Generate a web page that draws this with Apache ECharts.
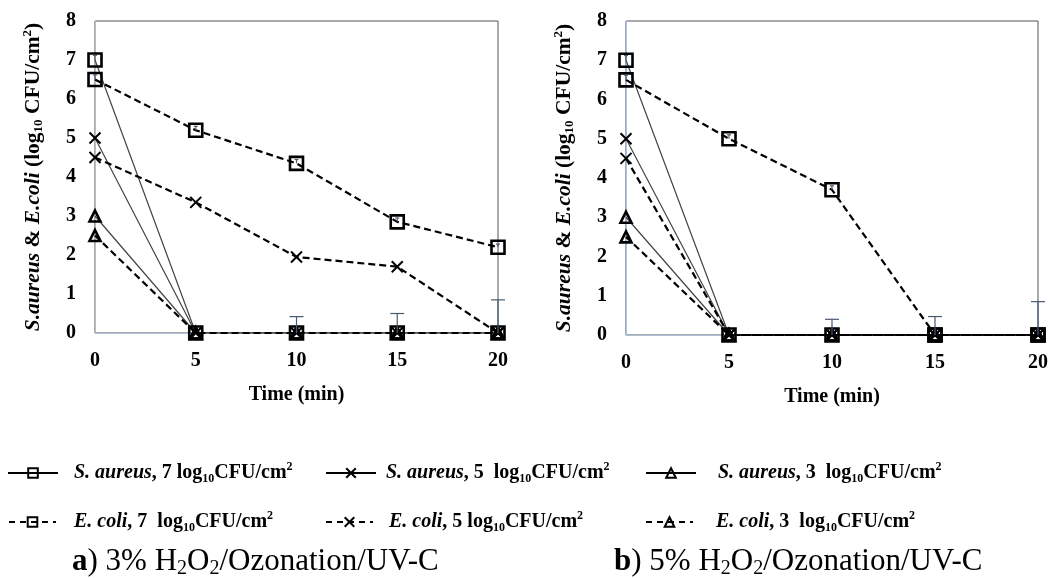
<!DOCTYPE html>
<html>
<head>
<meta charset="utf-8">
<script src="https://cdn.jsdelivr.net/npm/echarts@6/dist/echarts.min.js"></script>
<style>
  html, body { margin: 0; padding: 0; background: #fff; }
  #chart { width: 1051px; height: 578px; }
</style>
</head>
<body>
<div id="chart"></div>
<script>
// sampling times (min)
const times = [0, 5, 10, 15, 20]

// a) 3% H2O2/Ozonation/UV-C
const saureus7A = [7.0, 0, 0, 0, 0]
const saureus5A = [5.0, 0, 0, 0, 0]
const saureus3A = [3.0, 0, 0, 0, 0]
const ecoli7A = [6.5, 5.2, 4.35, 2.85, 2.2]
const ecoli5A = [4.5, 3.35, 1.95, 1.7, 0]
const ecoli3A = [2.5, 0, 0, 0, 0]

// b) 5% H2O2/Ozonation/UV-C
const saureus7B = [7.0, 0, 0, 0, 0]
const saureus5B = [5.0, 0, 0, 0, 0]
const saureus3B = [3.0, 0, 0, 0, 0]
const ecoli7B = [6.5, 5.0, 3.7, 0, 0]
const ecoli5B = [4.5, 0, 0, 0, 0]
const ecoli3B = [2.5, 0, 0, 0, 0]

// error bars: [time, value, upper error]
const errA = [[0, 7, 0.12], [0, 6.5, 0.12], [5, 5.2, 0.1], [10, 4.35, 0.1], [15, 2.85, 0.1], [20, 2.2, 0.08],
  [10, 0, 0.42], [15, 0, 0.5], [20, 0, 0.85]]
const errB = [[0, 7, 0.12], [0, 6.5, 0.12], [5, 5.0, 0.1], [10, 3.7, 0.1],
  [10, 0, 0.4], [15, 0, 0.47], [20, 0, 0.85]]

const names = [
  'S. aureus, 7 log10CFU/cm2',
  'S. aureus, 5 log10CFU/cm2',
  'S. aureus, 3 log10CFU/cm2',
  'E. coli, 7 log10CFU/cm2',
  'E. coli, 5 log10CFU/cm2',
  'E. coli, 3 log10CFU/cm2'
]
// the original legend puts two spaces before "log" in some entries
const wideGap = [false, true, true, true, false, true]

const FONT = '"Liberation Serif", "Times New Roman", serif'
const crossPath = 'path://M0,0L10,10M10,0L0,10'
const markers = ['rect', crossPath, 'triangle']
const markerSize = [13, 11, 11]

const chart = echarts.init(document.getElementById('chart'))

const richBase = (size, lh) => ({
  b: { fontFamily: FONT, fontWeight: 'bold', fontSize: size, color: '#000', lineHeight: lh, verticalAlign: 'middle' },
  bi: { fontFamily: FONT, fontWeight: 'bold', fontStyle: 'italic', fontSize: size, color: '#000', lineHeight: lh, verticalAlign: 'middle' },
  sub: { fontFamily: FONT, fontWeight: 'bold', fontSize: Math.round(size * 0.62), color: '#000', lineHeight: Math.round(lh * 0.55), verticalAlign: 'bottom' },
  sup: { fontFamily: FONT, fontWeight: 'bold', fontSize: Math.round(size * 0.62), color: '#000', lineHeight: Math.round(lh * 0.55), verticalAlign: 'top' }
})

const captionRich = (size) => ({
  ab: { fontFamily: FONT, fontWeight: 'bold', fontSize: size, color: '#000', lineHeight: 34, verticalAlign: 'middle' },
  n: { fontFamily: FONT, fontWeight: 'normal', fontSize: size, color: '#000', lineHeight: 34, verticalAlign: 'middle' },
  sub: { fontFamily: FONT, fontWeight: 'normal', fontSize: Math.round(size * 0.64), color: '#000', lineHeight: 20, verticalAlign: 'bottom' }
})

const legendLabel = (name) => {
  const i = names.indexOf(name)
  const m = name.match(/^(S\. aureus|E\. coli), (\d) log10CFU\/cm2$/)
  const sp = ', ' + m[2] + (wideGap[i] ? '  log' : ' log')
  return '{bi|' + m[1] + '}{b|' + sp + '}{sub|10}{b|CFU/cm}{sup|2}'
}

const makeX = (gi) => ({
  type: 'value',
  gridIndex: gi,
  min: 0,
  max: 20,
  interval: 5,
  name: 'Time (min)',
  nameLocation: 'middle',
  nameGap: 52,
  nameTextStyle: { fontFamily: FONT, fontWeight: 'bold', fontSize: 20, color: '#000' },
  axisLine: { lineStyle: { color: '#aebfd9', width: 1 } },
  axisTick: { show: false },
  splitLine: { show: false },
  axisLabel: { fontFamily: FONT, fontWeight: 'bold', fontSize: 20, color: '#000', margin: 18 }
})

const makeY = (gi) => ({
  type: 'value',
  gridIndex: gi,
  min: 0,
  max: 8,
  interval: 1,
  name: '{bi|S.aureus}{b| & }{bi|E.coli}{b| (log}{sub|10}{b| CFU/cm}{sup|2}{b|)}',
  nameLocation: 'middle',
  nameRotate: 90,
  nameGap: 50,
  nameTextStyle: { rich: richBase(21.5, 24) },
  axisLine: { show: true, lineStyle: { color: '#aebfd9', width: 1 } },
  axisTick: { show: false },
  splitLine: { show: false },
  axisLabel: { fontFamily: FONT, fontWeight: 'bold', fontSize: 20, color: '#000', margin: 19 }
})

const lineSeries = (name, values, gi, idx) => {
  const isEcoli = name.startsWith('E.')
  const k = idx % 3
  return {
    name: name,
    type: 'line',
    xAxisIndex: gi,
    yAxisIndex: gi,
    data: times.map((t, i) => [t, values[i]]),
    symbol: markers[k],
    symbolSize: markerSize[k],
    showAllSymbol: true,
    lineStyle: isEcoli
      ? { color: '#000', width: 2.2, type: [7, 4] }
      : { color: '#444', width: 1.2, type: 'solid' },
    // hollow markers: lines show through, as in the original
    itemStyle: {
      color: k === 1 ? '#000' : 'rgba(255,255,255,0)',
      borderColor: '#000',
      borderWidth: k === 1 ? 2 : 2.6
    },
    emphasis: { disabled: true },
    z: 3
  }
}

const errSeries = (data, gi) => ({
  type: 'custom',
  xAxisIndex: gi,
  yAxisIndex: gi,
  data: data,
  z: 4,
  silent: true,
  renderItem: (params, api) => {
    const p0 = api.coord([api.value(0), api.value(1)])
    const p1 = api.coord([api.value(0), api.value(1) + api.value(2)])
    const cap = api.value(1) === 0 ? 7 : 2
    const style = { stroke: '#4a5a70', lineWidth: 1.2 }
    return {
      type: 'group',
      children: [
        { type: 'line', shape: { x1: p0[0], y1: p0[1], x2: p1[0], y2: p1[1] }, style: style },
        { type: 'line', shape: { x1: p1[0] - cap, y1: p1[1], x2: p1[0] + cap, y2: p1[1] }, style: style }
      ]
    }
  }
})

const dataA = [saureus7A, saureus5A, saureus3A, ecoli7A, ecoli5A, ecoli3A]
const dataB = [saureus7B, saureus5B, saureus3B, ecoli7B, ecoli5B, ecoli3B]

const series = []
dataA.forEach((d, i) => series.push(lineSeries(names[i], d, 0, i)))
dataB.forEach((d, i) => series.push(lineSeries(names[i], d, 1, i)))
series.push(errSeries(errA, 0))
series.push(errSeries(errB, 1))

// one legend per entry so each sits where the original puts it
// (legend box has 5px padding, item height = text line height 24)
const legendPos = [
  { left: 2, top: 456, w: 50, pad: 11 }, { left: 320, top: 456, w: 50, pad: 5 }, { left: 640, top: 456, w: 50, pad: 17 },
  { left: 3, top: 505, w: 47, pad: 13 }, { left: 320, top: 505, w: 47, pad: 11 }, { left: 640, top: 505, w: 47, pad: 18 }
]
const legends = names.map((n, i) => ({
  data: [n],
  left: legendPos[i].left,
  top: legendPos[i].top,
  itemWidth: legendPos[i].w,
  itemHeight: 12,
  selectedMode: false,
  formatter: legendLabel,
  lineStyle: n.startsWith('E.')
    ? { color: '#000', width: 2, type: [6, 5] }
    : { color: '#000', width: 2, type: 'solid' },
  textStyle: { padding: [0, 0, 0, legendPos[i].pad], rich: richBase(20, 24) }
}))

const option = {
  backgroundColor: '#fff',
  animation: false,
  grid: [
    { left: 95, top: 21, width: 403, height: 312, show: true, borderColor: '#555', borderWidth: 1 },
    { left: 626, top: 21, width: 412, height: 314, show: true, borderColor: '#555', borderWidth: 1 }
  ],
  xAxis: [makeX(0), makeX(1)],
  yAxis: [makeY(0), makeY(1)],
  legend: legends,
  title: [
    {
      text: '{ab|a}{n|) 3% H}{sub|2}{n|O}{sub|2}{n|/Ozonation/UV-C}',
      left: 72,
      top: 545,
      padding: 0,
      textStyle: { rich: captionRich(31) }
    },
    {
      text: '{ab|b}{n|) 5% H}{sub|2}{n|O}{sub|2}{n|/Ozonation/UV-C}',
      left: 614,
      top: 545,
      padding: 0,
      textStyle: { rich: captionRich(31) }
    }
  ],
  series: series
}

chart.setOption(option)
</script>
</body>
</html>
